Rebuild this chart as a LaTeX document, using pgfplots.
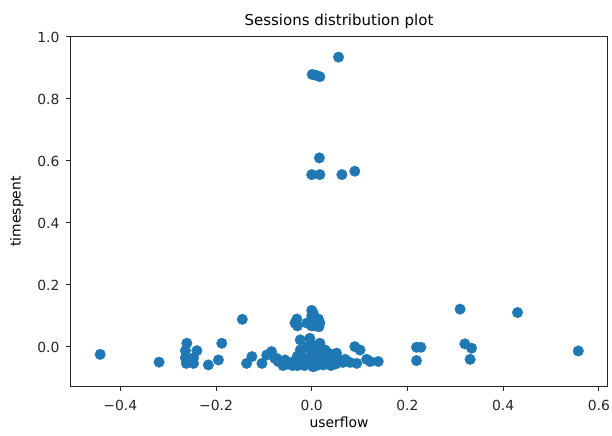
\documentclass[border=0pt]{standalone}
\usepackage{fontspec}
\setmainfont{DejaVu Sans}
\usepackage{pgfplots}
\pgfplotsset{compat=1.18}
\definecolor{c0}{HTML}{1F77B4}
\begin{document}
\begin{tikzpicture}
\begin{axis}[
  name=ax,
  scale only axis,
  width=536bp, height=349bp,
  xmin=-0.503, xmax=0.617,
  ymin=-0.126, ymax=1.0,
  axis line style={line width=1.0bp, black!85},
  tick style={line width=1.0bp, black!85},
  tick align=outside,
  major tick length=4.9bp,
  xtick pos=bottom, ytick pos=left,
  xtick={-0.4,-0.2,0,0.2,0.4,0.6},
  xticklabels={−0.4,−0.2,0.0,0.2,0.4,0.6},
  ytick={0,0.2,0.4,0.6,0.8,1.0},
  yticklabels={0.0,0.2,0.4,0.6,0.8,1.0},
  tick label style={font=\fontsize{13.9bp}{16bp}\selectfont, text=black!85},
  xticklabel style={anchor=north, inner sep=0pt, yshift=-9.5bp},
  yticklabel style={anchor=east, inner sep=0pt, xshift=-6.5bp},
  title={Sessions distribution plot},
  title style={at={(axis description cs:0.5,1.0152)}, anchor=base, inner sep=0pt, font=\fontsize{15bp}{18bp}\selectfont},
  xlabel={userflow},
  xlabel style={at={(axis description cs:0.5,-0.1203)}, anchor=base, inner sep=0pt, font=\fontsize{13.9bp}{16bp}\selectfont},
  ylabel={timespent},
  ylabel style={at={(axis description cs:-0.0942,0.5)}, anchor=base, inner sep=0pt, font=\fontsize{13.9bp}{16bp}\selectfont},
]
\addplot[only marks, mark=*, color=c0, mark size=5.3bp, mark options={solid, draw=c0, fill=c0, line width=0.3bp}] coordinates {
(-0.442,-0.024) (-0.319,-0.049)
(-0.261,0.012) (-0.264,-0.012) (-0.264,-0.035) (-0.262,-0.053) (-0.247,-0.053) (-0.240,-0.012) (-0.247,-0.035)
(-0.216,-0.058) (-0.195,-0.042) (-0.188,0.012) (-0.145,0.089)
(-0.136,-0.053) (-0.125,-0.031) (-0.104,-0.053) (-0.094,-0.026) (-0.077,-0.037) (-0.084,-0.015) (-0.070,-0.047)
(-0.035,0.077) (-0.031,0.090) (-0.010,0.077) (0.000,0.118) (0.003,0.110) (0.000,0.100) (-0.004,0.077)
(0.010,0.077) (0.014,0.090) (0.017,0.077) (0.005,0.068) (0.015,0.065) (-0.030,0.068) (0.000,0.068)
(-0.073,-0.037) (-0.056,-0.042) (-0.038,-0.047) (-0.025,-0.047) (-0.024,0.023) (-0.024,-0.010) (-0.020,-0.030)
(-0.004,0.028) (0.003,0.005) (0.017,0.012) (0.028,-0.010) (0.038,-0.031) (0.052,-0.020) (0.059,-0.047)
(0.003,-0.064) (0.024,-0.058)
(-0.050,-0.055) (-0.040,-0.060) (-0.030,-0.060) (-0.015,-0.060) (-0.010,-0.040) (0.000,-0.050) (0.010,-0.060)
(0.010,-0.030) (0.020,-0.040) (0.030,-0.050) (0.040,-0.060) (0.045,-0.045) (0.050,-0.055) (0.065,-0.050)
(0.000,-0.015) (-0.010,0.000) (0.010,-0.005) (-0.030,-0.030) (-0.060,-0.060) (0.070,-0.040) (-0.002,-0.035)
(0.035,-0.020) (0.020,-0.010) (0.080,-0.050)
(0.090,0.001) (0.101,-0.010) (0.094,-0.053) (0.115,-0.040) (0.122,-0.047) (0.139,-0.047)
(0.219,-0.001) (0.228,-0.001) (0.219,-0.044)
(0.310,0.122) (0.320,0.010) (0.334,-0.004) (0.331,-0.040)
(0.430,0.111) (0.557,-0.013)
(0.056,0.935) (0.001,0.879) (0.008,0.877) (0.017,0.872)
(0.016,0.610) (0.000,0.556) (0.017,0.556) (0.063,0.556) (0.090,0.567)
};
\end{axis}
\pgfresetboundingbox
\path ([xshift=-71bp,yshift=-50bp]ax.south west) rectangle ([xshift=5bp,yshift=37bp]ax.north east);
\end{tikzpicture}
\end{document}
